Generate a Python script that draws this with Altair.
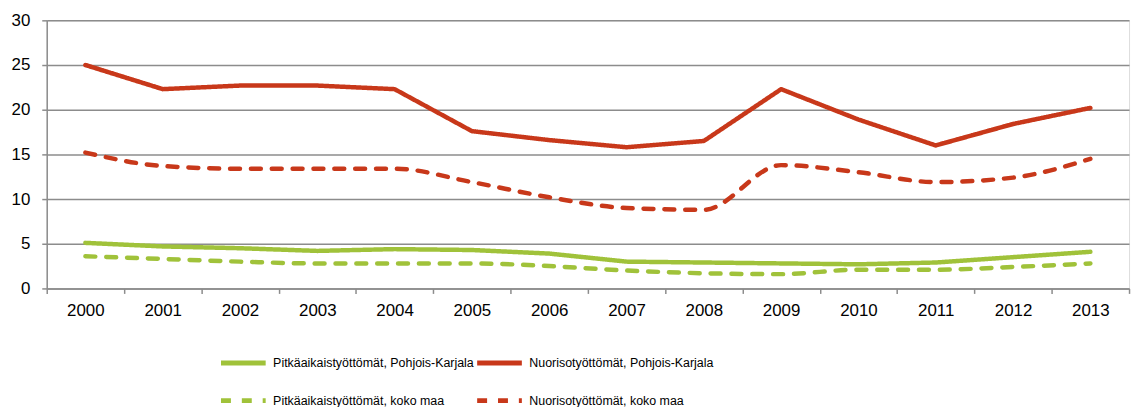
import altair as alt
import pandas as pd

years = list(range(2000, 2014))
series_names = [
    "Pitkäaikaistyöttömät, Pohjois-Karjala",
    "Nuorisotyöttömät, Pohjois-Karjala",
    "Pitkäaikaistyöttömät, koko maa",
    "Nuorisotyöttömät, koko maa",
]
pitka_pk = [5.1, 4.7, 4.5, 4.2, 4.4, 4.3, 3.9, 3.0, 2.9, 2.8, 2.7, 2.9, 3.5, 4.1]
nuoriso_pk = [25.0, 22.3, 22.7, 22.7, 22.3, 17.6, 16.6, 15.8, 16.5, 22.3, 18.9, 16.0, 18.4, 20.2]
pitka_maa = [3.6, 3.3, 3.0, 2.8, 2.8, 2.8, 2.5, 2.0, 1.7, 1.6, 2.1, 2.1, 2.4, 2.8]
nuoriso_maa = [15.2, 13.7, 13.4, 13.4, 13.4, 11.9, 10.2, 9.0, 8.8, 13.8, 13.0, 11.9, 12.4, 14.5]

values = [pitka_pk, nuoriso_pk, pitka_maa, nuoriso_maa]
rows = []
for name, vals in zip(series_names, values):
    for y, v in zip(years, vals):
        rows.append({"year": y, "value": v, "series": name})
df = pd.DataFrame(rows)

GREEN = "#A0C23A"
RED = "#C8381A"
GRID = "#8C8C8C"

tick_vals = [y - 0.5 for y in years] + [years[-1] + 0.5]

x_enc = alt.X(
    "year:Q",
    scale=alt.Scale(domain=[years[0] - 0.5, years[-1] + 0.5], nice=False, zero=False),
    axis=alt.Axis(
        values=tick_vals,
        title=None,
        grid=False,
        labelExpr="datum.value > 2013 ? '' : toString(datum.value + 0.5)",
        labelOffset=38.9,
        labelFont="Liberation Sans",
        labelFontSize=17,
        labelColor="#000000",
        labelPadding=9,
        tickSize=5,
        tickColor=GRID,
        tickWidth=1.5,
        domainColor=GRID,
        domainWidth=1.5,
        labelFlush=False,
        labelOverlap=False,
    ),
)
y_enc = alt.Y(
    "value:Q",
    scale=alt.Scale(domain=[0, 30], nice=False),
    axis=alt.Axis(
        values=[0, 5, 10, 15, 20, 25, 30],
        title=None,
        grid=True,
        gridColor=GRID,
        gridWidth=1.5,
        labelFont="Liberation Sans",
        labelFontSize=17,
        labelColor="#000000",
        labelPadding=12,
        tickSize=5,
        tickColor=GRID,
        tickWidth=1.5,
        domainColor=GRID,
        domainWidth=1.5,
    ),
)

legend_opts = dict(
    title=None,
    orient="none",
    direction="horizontal",
    legendX=173,
    legendY=320,
    columns=2,
    columnPadding=-19,
    rowPadding=3,
    symbolType="stroke",
    symbolSize=2025,
    symbolStrokeWidth=5,
    labelFont="Liberation Sans",
    labelFontSize=12.5,
    labelColor="#000000",
    labelOffset=5,
    labelLimit=400,
    padding=0,
)

color_enc = alt.Color(
    "series:N",
    scale=alt.Scale(domain=series_names, range=[GREEN, RED, GREEN, RED]),
    legend=alt.Legend(**legend_opts),
)
dash_enc = alt.StrokeDash(
    "series:N",
    scale=alt.Scale(domain=series_names, range=[[1, 0], [1, 0], [10, 11], [10, 11]]),
    legend=alt.Legend(**legend_opts),
)

base = alt.Chart(df).encode(x=x_enc, y=y_enc, color=color_enc, strokeDash=dash_enc)

solid = base.transform_filter(
    alt.FieldOneOfPredicate(field="series", oneOf=[series_names[0], series_names[1]])
).mark_line(strokeWidth=4.5, strokeCap="round", strokeJoin="round", interpolate="linear")

dashed = base.transform_filter(
    alt.FieldOneOfPredicate(field="series", oneOf=[series_names[2], series_names[3]])
).mark_line(strokeWidth=4.5, strokeCap="round", strokeJoin="round", interpolate="monotone")

chart = (
    alt.layer(solid, dashed)
    .properties(
        width=1090,
        height=270,
        autosize=alt.AutoSizeParams(type="none"),
        padding={"left": 39, "top": 11, "right": 5, "bottom": 121},
    )
    .configure_view(stroke=None)
    .configure(background="#FFFFFF")
)

chart.save("out.html", embed_options={"renderer": "svg", "actions": False})
